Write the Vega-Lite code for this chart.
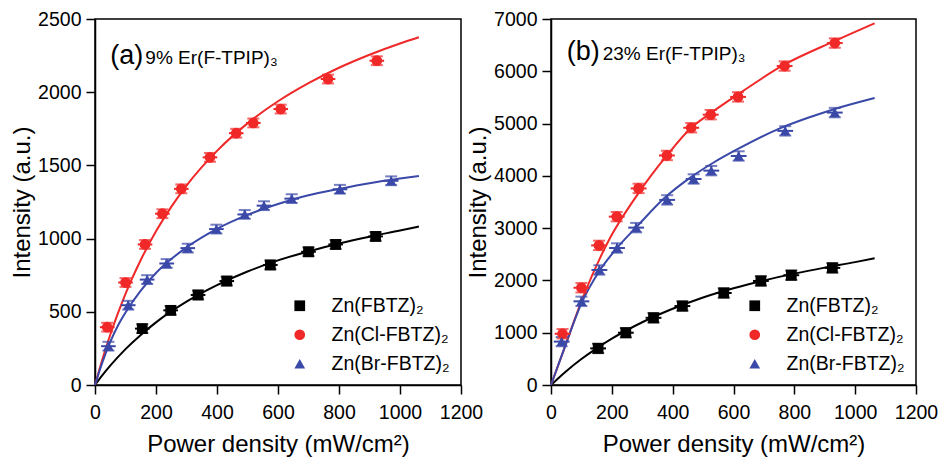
{
  "$schema": "https://vega.github.io/schema/vega-lite/v6.json",
  "padding": {"left": 9, "top": 8, "right": 0, "bottom": 0},
  "background": "white",
  "datasets": {
    "pts": [
      {"panel": "a", "series": "Zn(FBTZ)₂", "x": 155, "y": 385, "ex": 24, "ey": 30},
      {"panel": "a", "series": "Zn(FBTZ)₂", "x": 248, "y": 510, "ex": 24, "ey": 30},
      {"panel": "a", "series": "Zn(FBTZ)₂", "x": 338, "y": 615, "ex": 24, "ey": 30},
      {"panel": "a", "series": "Zn(FBTZ)₂", "x": 432, "y": 710, "ex": 24, "ey": 30},
      {"panel": "a", "series": "Zn(FBTZ)₂", "x": 575, "y": 820, "ex": 24, "ey": 30},
      {"panel": "a", "series": "Zn(FBTZ)₂", "x": 700, "y": 910, "ex": 24, "ey": 30},
      {"panel": "a", "series": "Zn(FBTZ)₂", "x": 789, "y": 960, "ex": 24, "ey": 30},
      {"panel": "a", "series": "Zn(FBTZ)₂", "x": 920, "y": 1015, "ex": 24, "ey": 30},
      {"panel": "a", "series": "Zn(Cl-FBTZ)₂", "x": 40, "y": 395, "ex": 24, "ey": 30},
      {"panel": "a", "series": "Zn(Cl-FBTZ)₂", "x": 100, "y": 700, "ex": 24, "ey": 30},
      {"panel": "a", "series": "Zn(Cl-FBTZ)₂", "x": 164, "y": 960, "ex": 24, "ey": 30},
      {"panel": "a", "series": "Zn(Cl-FBTZ)₂", "x": 221, "y": 1170, "ex": 24, "ey": 30},
      {"panel": "a", "series": "Zn(Cl-FBTZ)₂", "x": 283, "y": 1340, "ex": 24, "ey": 30},
      {"panel": "a", "series": "Zn(Cl-FBTZ)₂", "x": 377, "y": 1555, "ex": 24, "ey": 30},
      {"panel": "a", "series": "Zn(Cl-FBTZ)₂", "x": 463, "y": 1720, "ex": 24, "ey": 30},
      {"panel": "a", "series": "Zn(Cl-FBTZ)₂", "x": 519, "y": 1790, "ex": 24, "ey": 30},
      {"panel": "a", "series": "Zn(Cl-FBTZ)₂", "x": 609, "y": 1885, "ex": 24, "ey": 30},
      {"panel": "a", "series": "Zn(Cl-FBTZ)₂", "x": 764, "y": 2090, "ex": 24, "ey": 30},
      {"panel": "a", "series": "Zn(Cl-FBTZ)₂", "x": 924, "y": 2215, "ex": 24, "ey": 30},
      {"panel": "a", "series": "Zn(Br-FBTZ)₂", "x": 44, "y": 265, "ex": 24, "ey": 30},
      {"panel": "a", "series": "Zn(Br-FBTZ)₂", "x": 109, "y": 545, "ex": 24, "ey": 30},
      {"panel": "a", "series": "Zn(Br-FBTZ)₂", "x": 171, "y": 720, "ex": 24, "ey": 30},
      {"panel": "a", "series": "Zn(Br-FBTZ)₂", "x": 235, "y": 830, "ex": 24, "ey": 30},
      {"panel": "a", "series": "Zn(Br-FBTZ)₂", "x": 304, "y": 935, "ex": 24, "ey": 30},
      {"panel": "a", "series": "Zn(Br-FBTZ)₂", "x": 398, "y": 1065, "ex": 24, "ey": 30},
      {"panel": "a", "series": "Zn(Br-FBTZ)₂", "x": 491, "y": 1165, "ex": 24, "ey": 30},
      {"panel": "a", "series": "Zn(Br-FBTZ)₂", "x": 554, "y": 1225, "ex": 24, "ey": 30},
      {"panel": "a", "series": "Zn(Br-FBTZ)₂", "x": 645, "y": 1273, "ex": 24, "ey": 30},
      {"panel": "a", "series": "Zn(Br-FBTZ)₂", "x": 803, "y": 1337, "ex": 24, "ey": 30},
      {"panel": "a", "series": "Zn(Br-FBTZ)₂", "x": 971, "y": 1395, "ex": 24, "ey": 30},
      {"panel": "b", "series": "Zn(FBTZ)₂", "x": 155, "y": 700, "ex": 26, "ey": 90},
      {"panel": "b", "series": "Zn(FBTZ)₂", "x": 246, "y": 1000, "ex": 26, "ey": 90},
      {"panel": "b", "series": "Zn(FBTZ)₂", "x": 337, "y": 1285, "ex": 26, "ey": 90},
      {"panel": "b", "series": "Zn(FBTZ)₂", "x": 432, "y": 1510, "ex": 26, "ey": 90},
      {"panel": "b", "series": "Zn(FBTZ)₂", "x": 568, "y": 1760, "ex": 26, "ey": 90},
      {"panel": "b", "series": "Zn(FBTZ)₂", "x": 690, "y": 1990, "ex": 26, "ey": 90},
      {"panel": "b", "series": "Zn(FBTZ)₂", "x": 790, "y": 2100, "ex": 26, "ey": 90},
      {"panel": "b", "series": "Zn(FBTZ)₂", "x": 925, "y": 2240, "ex": 26, "ey": 90},
      {"panel": "b", "series": "Zn(Cl-FBTZ)₂", "x": 38, "y": 980, "ex": 26, "ey": 90},
      {"panel": "b", "series": "Zn(Cl-FBTZ)₂", "x": 100, "y": 1860, "ex": 26, "ey": 90},
      {"panel": "b", "series": "Zn(Cl-FBTZ)₂", "x": 158, "y": 2670, "ex": 26, "ey": 90},
      {"panel": "b", "series": "Zn(Cl-FBTZ)₂", "x": 216, "y": 3220, "ex": 26, "ey": 90},
      {"panel": "b", "series": "Zn(Cl-FBTZ)₂", "x": 288, "y": 3760, "ex": 26, "ey": 90},
      {"panel": "b", "series": "Zn(Cl-FBTZ)₂", "x": 381, "y": 4390, "ex": 26, "ey": 90},
      {"panel": "b", "series": "Zn(Cl-FBTZ)₂", "x": 461, "y": 4920, "ex": 26, "ey": 90},
      {"panel": "b", "series": "Zn(Cl-FBTZ)₂", "x": 525, "y": 5170, "ex": 26, "ey": 90},
      {"panel": "b", "series": "Zn(Cl-FBTZ)₂", "x": 615, "y": 5510, "ex": 26, "ey": 90},
      {"panel": "b", "series": "Zn(Cl-FBTZ)₂", "x": 768, "y": 6100, "ex": 26, "ey": 90},
      {"panel": "b", "series": "Zn(Cl-FBTZ)₂", "x": 933, "y": 6540, "ex": 26, "ey": 90},
      {"panel": "b", "series": "Zn(Br-FBTZ)₂", "x": 35, "y": 830, "ex": 26, "ey": 90},
      {"panel": "b", "series": "Zn(Br-FBTZ)₂", "x": 100, "y": 1600, "ex": 26, "ey": 90},
      {"panel": "b", "series": "Zn(Br-FBTZ)₂", "x": 159, "y": 2200, "ex": 26, "ey": 90},
      {"panel": "b", "series": "Zn(Br-FBTZ)₂", "x": 217, "y": 2620, "ex": 26, "ey": 90},
      {"panel": "b", "series": "Zn(Br-FBTZ)₂", "x": 280, "y": 3010, "ex": 26, "ey": 90},
      {"panel": "b", "series": "Zn(Br-FBTZ)₂", "x": 382, "y": 3540, "ex": 26, "ey": 90},
      {"panel": "b", "series": "Zn(Br-FBTZ)₂", "x": 469, "y": 3940, "ex": 26, "ey": 90},
      {"panel": "b", "series": "Zn(Br-FBTZ)₂", "x": 527, "y": 4100, "ex": 26, "ey": 90},
      {"panel": "b", "series": "Zn(Br-FBTZ)₂", "x": 617, "y": 4380, "ex": 26, "ey": 90},
      {"panel": "b", "series": "Zn(Br-FBTZ)₂", "x": 770, "y": 4860, "ex": 26, "ey": 90},
      {"panel": "b", "series": "Zn(Br-FBTZ)₂", "x": 933, "y": 5210, "ex": 26, "ey": 90}
    ],
    "fit": [
      {"panel": "a", "series": "Zn(FBTZ)₂", "x": 0, "y": 0},
      {"panel": "a", "series": "Zn(FBTZ)₂", "x": 25, "y": 69},
      {"panel": "a", "series": "Zn(FBTZ)₂", "x": 50, "y": 132},
      {"panel": "a", "series": "Zn(FBTZ)₂", "x": 100, "y": 245},
      {"panel": "a", "series": "Zn(FBTZ)₂", "x": 150, "y": 342},
      {"panel": "a", "series": "Zn(FBTZ)₂", "x": 200, "y": 428},
      {"panel": "a", "series": "Zn(FBTZ)₂", "x": 300, "y": 569},
      {"panel": "a", "series": "Zn(FBTZ)₂", "x": 400, "y": 682},
      {"panel": "a", "series": "Zn(FBTZ)₂", "x": 500, "y": 775},
      {"panel": "a", "series": "Zn(FBTZ)₂", "x": 600, "y": 851},
      {"panel": "a", "series": "Zn(FBTZ)₂", "x": 700, "y": 912},
      {"panel": "a", "series": "Zn(FBTZ)₂", "x": 800, "y": 966},
      {"panel": "a", "series": "Zn(FBTZ)₂", "x": 900, "y": 1013},
      {"panel": "a", "series": "Zn(FBTZ)₂", "x": 1000, "y": 1055},
      {"panel": "a", "series": "Zn(FBTZ)₂", "x": 1062, "y": 1082},
      {"panel": "a", "series": "Zn(Cl-FBTZ)₂", "x": 0, "y": 0},
      {"panel": "a", "series": "Zn(Cl-FBTZ)₂", "x": 25, "y": 181},
      {"panel": "a", "series": "Zn(Cl-FBTZ)₂", "x": 50, "y": 343},
      {"panel": "a", "series": "Zn(Cl-FBTZ)₂", "x": 75, "y": 489},
      {"panel": "a", "series": "Zn(Cl-FBTZ)₂", "x": 100, "y": 623},
      {"panel": "a", "series": "Zn(Cl-FBTZ)₂", "x": 150, "y": 854},
      {"panel": "a", "series": "Zn(Cl-FBTZ)₂", "x": 200, "y": 1050},
      {"panel": "a", "series": "Zn(Cl-FBTZ)₂", "x": 250, "y": 1217},
      {"panel": "a", "series": "Zn(Cl-FBTZ)₂", "x": 300, "y": 1362},
      {"panel": "a", "series": "Zn(Cl-FBTZ)₂", "x": 400, "y": 1599},
      {"panel": "a", "series": "Zn(Cl-FBTZ)₂", "x": 500, "y": 1787},
      {"panel": "a", "series": "Zn(Cl-FBTZ)₂", "x": 600, "y": 1938},
      {"panel": "a", "series": "Zn(Cl-FBTZ)₂", "x": 700, "y": 2062},
      {"panel": "a", "series": "Zn(Cl-FBTZ)₂", "x": 800, "y": 2167},
      {"panel": "a", "series": "Zn(Cl-FBTZ)₂", "x": 900, "y": 2256},
      {"panel": "a", "series": "Zn(Cl-FBTZ)₂", "x": 1000, "y": 2333},
      {"panel": "a", "series": "Zn(Cl-FBTZ)₂", "x": 1062, "y": 2375},
      {"panel": "a", "series": "Zn(Br-FBTZ)₂", "x": 0, "y": 0},
      {"panel": "a", "series": "Zn(Br-FBTZ)₂", "x": 25, "y": 160},
      {"panel": "a", "series": "Zn(Br-FBTZ)₂", "x": 50, "y": 295},
      {"panel": "a", "series": "Zn(Br-FBTZ)₂", "x": 75, "y": 405},
      {"panel": "a", "series": "Zn(Br-FBTZ)₂", "x": 100, "y": 495},
      {"panel": "a", "series": "Zn(Br-FBTZ)₂", "x": 150, "y": 645},
      {"panel": "a", "series": "Zn(Br-FBTZ)₂", "x": 200, "y": 765},
      {"panel": "a", "series": "Zn(Br-FBTZ)₂", "x": 250, "y": 860},
      {"panel": "a", "series": "Zn(Br-FBTZ)₂", "x": 300, "y": 940},
      {"panel": "a", "series": "Zn(Br-FBTZ)₂", "x": 400, "y": 1067},
      {"panel": "a", "series": "Zn(Br-FBTZ)₂", "x": 500, "y": 1162},
      {"panel": "a", "series": "Zn(Br-FBTZ)₂", "x": 600, "y": 1236},
      {"panel": "a", "series": "Zn(Br-FBTZ)₂", "x": 700, "y": 1296},
      {"panel": "a", "series": "Zn(Br-FBTZ)₂", "x": 800, "y": 1339},
      {"panel": "a", "series": "Zn(Br-FBTZ)₂", "x": 900, "y": 1378},
      {"panel": "a", "series": "Zn(Br-FBTZ)₂", "x": 1000, "y": 1410},
      {"panel": "a", "series": "Zn(Br-FBTZ)₂", "x": 1062, "y": 1428},
      {"panel": "b", "series": "Zn(FBTZ)₂", "x": 0, "y": 0},
      {"panel": "b", "series": "Zn(FBTZ)₂", "x": 25, "y": 136},
      {"panel": "b", "series": "Zn(FBTZ)₂", "x": 50, "y": 264},
      {"panel": "b", "series": "Zn(FBTZ)₂", "x": 100, "y": 497},
      {"panel": "b", "series": "Zn(FBTZ)₂", "x": 150, "y": 702},
      {"panel": "b", "series": "Zn(FBTZ)₂", "x": 200, "y": 886},
      {"panel": "b", "series": "Zn(FBTZ)₂", "x": 300, "y": 1200},
      {"panel": "b", "series": "Zn(FBTZ)₂", "x": 400, "y": 1458},
      {"panel": "b", "series": "Zn(FBTZ)₂", "x": 500, "y": 1674},
      {"panel": "b", "series": "Zn(FBTZ)₂", "x": 600, "y": 1850},
      {"panel": "b", "series": "Zn(FBTZ)₂", "x": 700, "y": 2000},
      {"panel": "b", "series": "Zn(FBTZ)₂", "x": 800, "y": 2130},
      {"panel": "b", "series": "Zn(FBTZ)₂", "x": 900, "y": 2245},
      {"panel": "b", "series": "Zn(FBTZ)₂", "x": 1000, "y": 2350},
      {"panel": "b", "series": "Zn(FBTZ)₂", "x": 1064, "y": 2425},
      {"panel": "b", "series": "Zn(Cl-FBTZ)₂", "x": 0, "y": 0},
      {"panel": "b", "series": "Zn(Cl-FBTZ)₂", "x": 40, "y": 640},
      {"panel": "b", "series": "Zn(Cl-FBTZ)₂", "x": 106, "y": 1690},
      {"panel": "b", "series": "Zn(Cl-FBTZ)₂", "x": 194, "y": 2810},
      {"panel": "b", "series": "Zn(Cl-FBTZ)₂", "x": 277, "y": 3580},
      {"panel": "b", "series": "Zn(Cl-FBTZ)₂", "x": 381, "y": 4390},
      {"panel": "b", "series": "Zn(Cl-FBTZ)₂", "x": 461, "y": 4920},
      {"panel": "b", "series": "Zn(Cl-FBTZ)₂", "x": 525, "y": 5200},
      {"panel": "b", "series": "Zn(Cl-FBTZ)₂", "x": 615, "y": 5560},
      {"panel": "b", "series": "Zn(Cl-FBTZ)₂", "x": 768, "y": 6130},
      {"panel": "b", "series": "Zn(Cl-FBTZ)₂", "x": 933, "y": 6580},
      {"panel": "b", "series": "Zn(Cl-FBTZ)₂", "x": 1064, "y": 6918},
      {"panel": "b", "series": "Zn(Br-FBTZ)₂", "x": 0, "y": 0},
      {"panel": "b", "series": "Zn(Br-FBTZ)₂", "x": 45, "y": 720},
      {"panel": "b", "series": "Zn(Br-FBTZ)₂", "x": 100, "y": 1560},
      {"panel": "b", "series": "Zn(Br-FBTZ)₂", "x": 159, "y": 2180},
      {"panel": "b", "series": "Zn(Br-FBTZ)₂", "x": 217, "y": 2620},
      {"panel": "b", "series": "Zn(Br-FBTZ)₂", "x": 284, "y": 3040},
      {"panel": "b", "series": "Zn(Br-FBTZ)₂", "x": 372, "y": 3570},
      {"panel": "b", "series": "Zn(Br-FBTZ)₂", "x": 459, "y": 3970},
      {"panel": "b", "series": "Zn(Br-FBTZ)₂", "x": 536, "y": 4260},
      {"panel": "b", "series": "Zn(Br-FBTZ)₂", "x": 613, "y": 4510},
      {"panel": "b", "series": "Zn(Br-FBTZ)₂", "x": 745, "y": 4890},
      {"panel": "b", "series": "Zn(Br-FBTZ)₂", "x": 850, "y": 5120},
      {"panel": "b", "series": "Zn(Br-FBTZ)₂", "x": 933, "y": 5280},
      {"panel": "b", "series": "Zn(Br-FBTZ)₂", "x": 1064, "y": 5490}
    ]
  },
  "hconcat": [
    {
      "width": 366,
      "height": 366,
      "layer": [
        {
          "data": {"name": "fit"},
          "transform": [{"filter": "datum.panel === 'a'"}],
          "mark": {"type": "line", "strokeWidth": 2, "interpolate": "monotone"},
          "encoding": {
            "x": {"field": "x", "type": "quantitative", "title": "Power density (mW/cm²)", "scale": {"domain": [0, 1200], "nice": false},
              "axis": {"values": [0,100,200,300,400,500,600,700,800,900,1000,1100,1200], "format": "d",
                "labelExpr": "datum.value % 200 === 0 ? datum.label : ''",
                "tickSize": {"condition": {"test": "datum.value % 200 === 0", "value": 9}, "value": 5}}},
            "y": {"field": "y", "type": "quantitative", "title": "Intensity (a.u.)", "scale": {"domain": [0, 2500], "nice": false},
              "axis": {"values": [0,250,500,750,1000,1250,1500,1750,2000,2250,2500], "format": "d",
                "labelExpr": "datum.value % 500 === 0 ? datum.label : ''",
                "tickSize": {"condition": {"test": "datum.value % 500 === 0", "value": 9}, "value": 5}}},
            "color": {"field": "series", "type": "nominal", "legend": null,
              "scale": {"domain": ["Zn(Cl-FBTZ)₂", "Zn(Br-FBTZ)₂", "Zn(FBTZ)₂"], "range": ["#f02828", "#3a48a8", "#000000"]}}
          }
        },
        {
          "data": {"name": "pts"},
          "transform": [{"filter": "datum.panel === 'a'"}],
          "mark": {"type": "errorbar", "thickness": 2},
          "encoding": {
            "x": {"field": "x", "type": "quantitative", "title": "Power density (mW/cm²)"},
            "xError": {"field": "ex"},
            "y": {"field": "y", "type": "quantitative", "title": "Intensity (a.u.)"},
            "color": {"field": "series", "type": "nominal", "legend": null}
          }
        },
        {
          "data": {"name": "pts"},
          "transform": [{"filter": "datum.panel === 'a'"}],
          "mark": {"type": "errorbar", "thickness": 2, "ticks": {"size": 12}},
          "encoding": {
            "y": {"field": "y", "type": "quantitative", "title": "Intensity (a.u.)"},
            "yError": {"field": "ey"},
            "x": {"field": "x", "type": "quantitative", "title": "Power density (mW/cm²)"},
            "color": {"field": "series", "type": "nominal", "legend": null}
          }
        },
        {
          "data": {"name": "pts"},
          "transform": [{"filter": "datum.panel === 'a'"}],
          "mark": {"type": "point", "filled": true, "size": 115, "opacity": 1},
          "encoding": {
            "x": {"field": "x", "type": "quantitative", "title": "Power density (mW/cm²)"},
            "y": {"field": "y", "type": "quantitative", "title": "Intensity (a.u.)"},
            "fill": {"field": "series", "type": "nominal",
              "legend": {"title": null, "orient": "bottom-right", "offset": 11},
              "scale": {"domain": ["Zn(FBTZ)₂", "Zn(Cl-FBTZ)₂", "Zn(Br-FBTZ)₂"], "range": ["#000000", "#f02828", "#3a48a8"]}},
            "shape": {"field": "series", "type": "nominal",
              "legend": {"title": null, "orient": "bottom-right", "offset": 11},
              "scale": {"domain": ["Zn(FBTZ)₂", "Zn(Cl-FBTZ)₂", "Zn(Br-FBTZ)₂"], "range": ["square", "circle", "triangle-up"]}}
          }
        },
        {
          "data": {"values": [{}]},
          "mark": {"type": "text", "fontSize": 27, "align": "left", "baseline": "alphabetic", "color": "black"},
          "encoding": {"x": {"datum": 50}, "y": {"datum": 2195}, "text": {"value": "(a)"}}
        },
        {
          "data": {"values": [{}]},
          "mark": {"type": "text", "fontSize": 19, "align": "left", "baseline": "alphabetic", "color": "black"},
          "encoding": {"x": {"datum": 165}, "y": {"datum": 2195}, "text": {"value": "9% Er(F-TPIP)₃"}}
        }
      ]
    },
    {
      "width": 365,
      "height": 366,
      "layer": [
        {
          "data": {"name": "fit"},
          "transform": [{"filter": "datum.panel === 'b'"}],
          "mark": {"type": "line", "strokeWidth": 2, "interpolate": "monotone"},
          "encoding": {
            "x": {"field": "x", "type": "quantitative", "title": "Power density (mW/cm²)", "scale": {"domain": [0, 1200], "nice": false},
              "axis": {"values": [0,100,200,300,400,500,600,700,800,900,1000,1100,1200], "format": "d",
                "labelExpr": "datum.value % 200 === 0 ? datum.label : ''",
                "tickSize": {"condition": {"test": "datum.value % 200 === 0", "value": 9}, "value": 5}}},
            "y": {"field": "y", "type": "quantitative", "title": "Intensity (a.u.)", "scale": {"domain": [0, 7000], "nice": false},
              "axis": {"values": [0,500,1000,1500,2000,2500,3000,3500,4000,4500,5000,5500,6000,6500,7000], "format": "d",
                "labelExpr": "datum.value % 1000 === 0 ? datum.label : ''",
                "tickSize": {"condition": {"test": "datum.value % 1000 === 0", "value": 9}, "value": 5}}},
            "color": {"field": "series", "type": "nominal", "legend": null,
              "scale": {"domain": ["Zn(Cl-FBTZ)₂", "Zn(Br-FBTZ)₂", "Zn(FBTZ)₂"], "range": ["#f02828", "#3a48a8", "#000000"]}}
          }
        },
        {
          "data": {"name": "pts"},
          "transform": [{"filter": "datum.panel === 'b'"}],
          "mark": {"type": "errorbar", "thickness": 2},
          "encoding": {
            "x": {"field": "x", "type": "quantitative", "title": "Power density (mW/cm²)"},
            "xError": {"field": "ex"},
            "y": {"field": "y", "type": "quantitative", "title": "Intensity (a.u.)"},
            "color": {"field": "series", "type": "nominal", "legend": null}
          }
        },
        {
          "data": {"name": "pts"},
          "transform": [{"filter": "datum.panel === 'b'"}],
          "mark": {"type": "errorbar", "thickness": 2, "ticks": {"size": 12}},
          "encoding": {
            "y": {"field": "y", "type": "quantitative", "title": "Intensity (a.u.)"},
            "yError": {"field": "ey"},
            "x": {"field": "x", "type": "quantitative", "title": "Power density (mW/cm²)"},
            "color": {"field": "series", "type": "nominal", "legend": null}
          }
        },
        {
          "data": {"name": "pts"},
          "transform": [{"filter": "datum.panel === 'b'"}],
          "mark": {"type": "point", "filled": true, "size": 115, "opacity": 1},
          "encoding": {
            "x": {"field": "x", "type": "quantitative", "title": "Power density (mW/cm²)"},
            "y": {"field": "y", "type": "quantitative", "title": "Intensity (a.u.)"},
            "fill": {"field": "series", "type": "nominal",
              "legend": {"title": null, "orient": "bottom-right", "offset": 11},
              "scale": {"domain": ["Zn(FBTZ)₂", "Zn(Cl-FBTZ)₂", "Zn(Br-FBTZ)₂"], "range": ["#000000", "#f02828", "#3a48a8"]}},
            "shape": {"field": "series", "type": "nominal",
              "legend": {"title": null, "orient": "bottom-right", "offset": 11},
              "scale": {"domain": ["Zn(FBTZ)₂", "Zn(Cl-FBTZ)₂", "Zn(Br-FBTZ)₂"], "range": ["square", "circle", "triangle-up"]}}
          }
        },
        {
          "data": {"values": [{}]},
          "mark": {"type": "text", "fontSize": 27, "align": "left", "baseline": "alphabetic", "color": "black"},
          "encoding": {"x": {"datum": 52}, "y": {"datum": 6210}, "text": {"value": "(b)"}}
        },
        {
          "data": {"values": [{}]},
          "mark": {"type": "text", "fontSize": 19, "align": "left", "baseline": "alphabetic", "color": "black"},
          "encoding": {"x": {"datum": 170}, "y": {"datum": 6210}, "text": {"value": "23% Er(F-TPIP)₃"}}
        }
      ]
    }
  ],
  "bounds": "flush",
  "spacing": 90,
  "resolve": {
    "scale": {"x": "independent", "y": "independent", "color": "independent", "fill": "independent", "shape": "independent"},
    "legend": {"color": "independent", "fill": "independent", "shape": "independent"}
  },
  "config": {
    "font": "Liberation Sans",
    "view": {"stroke": "black", "strokeWidth": 1.5},
    "axis": {
      "grid": false,
      "domainColor": "black",
      "domainWidth": 1.5,
      "tickColor": "black",
      "tickWidth": 1.5,
      "labelColor": "black",
      "titleColor": "black",
      "labelFont": "Liberation Sans",
      "titleFont": "Liberation Sans",
      "labelFontSize": 19.5,
      "titleFontSize": 24,
      "titleFontWeight": "normal",
      "labelFlush": false,
      "labelOverlap": false
    },
    "axisX": {"labelPadding": 9, "titlePadding": 11},
    "axisY": {"labelPadding": 5, "titlePadding": 3},
    "legend": {
      "labelFont": "Liberation Sans",
      "labelFontSize": 19.5,
      "labelColor": "black",
      "symbolSize": 115,
      "symbolStrokeWidth": 0,
      "rowPadding": 8,
      "labelOffset": 22,
      "padding": 0
    }
  }
}
